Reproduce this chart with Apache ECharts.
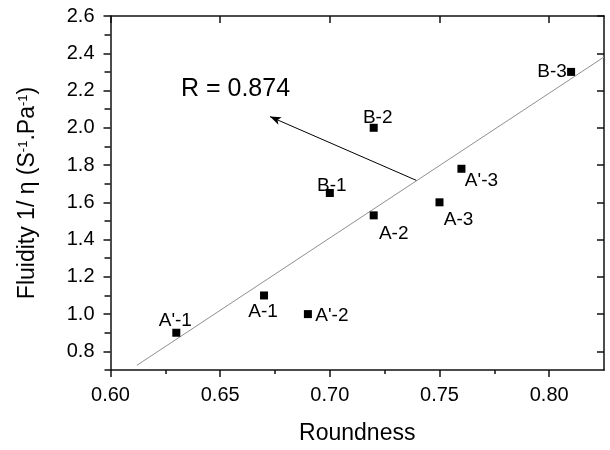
<!DOCTYPE html>
<html>
<head>
<meta charset="utf-8">
<script src="https://cdn.jsdelivr.net/npm/echarts@6/dist/echarts.min.js"></script>
<style>
html,body{margin:0;padding:0;background:#fff;}
#chart{width:610px;height:450px;}
</style>
</head>
<body>
<div id="chart"></div>
<script>
// ---- data ----
var sampleNames = ["A'-1", "A-1", "A'-2", "B-1", "A-2", "B-2", "A-3", "A'-3", "B-3"];
var roundness   = [0.63, 0.67, 0.69, 0.70, 0.72, 0.72, 0.75, 0.76, 0.81];
var fluidity    = [0.90, 1.10, 1.00, 1.65, 1.53, 2.00, 1.60, 1.78, 2.30];
var fitX = [0.612, 0.825];
var fitY = [0.725, 2.38];
var arrowFrom = [0.7394, 1.718];
var arrowTo   = [0.6727, 2.06];
var annotationText = "R = 0.874";
var annotationAt = [0.657, 2.205];
var xMajorTicks = [0.60, 0.65, 0.70, 0.75, 0.80];
var xMinorTicks = [0.625, 0.675, 0.725, 0.775];
var yMajorTicks = [0.8, 1.0, 1.2, 1.4, 1.6, 1.8, 2.0, 2.2, 2.4, 2.6];
var yMinorTicks = [0.7, 0.9, 1.1, 1.3, 1.5, 1.7, 1.9, 2.1, 2.3, 2.5];

// ---- label placement (style) ----
var labelOffsets = {
  "A'-1": [-1, -12], "A-1": [-1, 16], "A'-2": [24, 2], "B-1": [2, -7],
  "A-2": [20, 18], "B-2": [4, -10], "A-3": [19, 17], "A'-3": [20, 12], "B-3": [-19, 0]
};

var FONT = 'Liberation Sans, Arial, sans-serif';
var AX = '#111';

var points = sampleNames.map(function (n, i) {
  return {
    value: [roundness[i], fluidity[i]],
    name: n,
    label: { offset: labelOffsets[n] }
  };
});

var chart = echarts.init(document.getElementById('chart'));
var xBase = { type: 'value', min: 0.6, max: 0.825, splitLine: { show: false } };
var yBase = { type: 'value', min: 0.7, max: 2.6, splitLine: { show: false } };

chart.setOption({
  animation: false,
  backgroundColor: '#fff',
  textStyle: { fontFamily: FONT },
  grid: { left: 110.5, right: 6, top: 16, bottom: 77.5 },
  xAxis: [
    Object.assign({}, xBase, {
      position: 'bottom',
      name: 'Roundness', nameLocation: 'middle', nameGap: 52,
      nameTextStyle: { fontSize: 23, color: '#000', fontFamily: FONT },
      axisLine: { show: true, onZero: false, lineStyle: { color: AX, width: 1.5 } },
      axisTick: { show: true, inside: false, length: 7, customValues: xMajorTicks, lineStyle: { color: AX, width: 1.5 } },
      axisLabel: { show: true, customValues: xMajorTicks, margin: 15, fontSize: 20, color: '#000', fontFamily: FONT,
        formatter: function (v) { return v.toFixed(2); } }
    }),
    Object.assign({}, xBase, {
      position: 'bottom',
      axisLine: { show: false, onZero: false },
      axisTick: { show: true, inside: false, length: 4, customValues: xMinorTicks, lineStyle: { color: AX, width: 1.5 } },
      axisLabel: { show: false }
    }),
    Object.assign({}, xBase, {
      position: 'top',
      axisLine: { show: true, onZero: false, lineStyle: { color: AX, width: 1.5 } },
      axisTick: { show: true, inside: true, length: 7, customValues: xMajorTicks, lineStyle: { color: AX, width: 1.5 } },
      axisLabel: { show: false }
    })
  ],
  yAxis: [
    Object.assign({}, yBase, {
      position: 'left',
      name: 'Fluidity 1/ η (S{sup|-1}.Pa{sup|-1})', nameLocation: 'middle', nameGap: 71,
      nameTextStyle: { fontSize: 23, color: '#000', fontFamily: FONT,
        rich: { sup: { fontSize: 13, verticalAlign: 'top', color: '#000', fontFamily: FONT } } },
      axisLine: { show: true, onZero: false, lineStyle: { color: AX, width: 1.5 } },
      axisTick: { show: true, inside: false, length: 7, customValues: yMajorTicks, lineStyle: { color: AX, width: 1.5 } },
      axisLabel: { show: true, customValues: yMajorTicks, margin: 16, fontSize: 20, color: '#000', fontFamily: FONT,
        formatter: function (v) { return v.toFixed(1); } }
    }),
    Object.assign({}, yBase, {
      position: 'left',
      axisLine: { show: false, onZero: false },
      axisTick: { show: true, inside: false, length: 6, customValues: yMinorTicks, lineStyle: { color: AX, width: 1.5 } },
      axisLabel: { show: false }
    }),
    Object.assign({}, yBase, {
      position: 'right',
      axisLine: { show: true, onZero: false, lineStyle: { color: AX, width: 1.5 } },
      axisTick: { show: true, inside: true, length: 7, customValues: yMajorTicks, lineStyle: { color: AX, width: 1.5 } },
      axisLabel: { show: false }
    })
  ],
  series: [
    {
      type: 'line',
      xAxisIndex: 0, yAxisIndex: 0,
      data: fitX.map(function (x, i) { return [x, fitY[i]]; }),
      showSymbol: false, symbol: 'none',
      lineStyle: { color: '#909090', width: 1 },
      z: 1,
      markLine: {
        silent: true,
        symbol: ['none', 'arrow'],
        symbolSize: [6, 11],
        label: { show: false },
        lineStyle: { color: '#000', width: 1, type: 'solid' },
        data: [[{ coord: arrowFrom }, { coord: arrowTo }]]
      }
    },
    {
      type: 'scatter',
      xAxisIndex: 0, yAxisIndex: 0,
      symbol: 'rect', symbolSize: 8,
      itemStyle: { color: '#000', opacity: 1 },
      z: 3,
      label: {
        show: true, position: 'inside', formatter: '{b}',
        fontSize: 19, color: '#000', fontFamily: FONT
      },
      data: points
    },
    {
      type: 'scatter',
      xAxisIndex: 0, yAxisIndex: 0,
      symbolSize: 0,
      itemStyle: { color: 'rgba(0,0,0,0)', opacity: 1 },
      label: { show: true, position: 'inside', formatter: annotationText, fontSize: 25, color: '#000', fontFamily: FONT },
      data: [annotationAt]
    }
  ]
});
</script>
</body>
</html>
